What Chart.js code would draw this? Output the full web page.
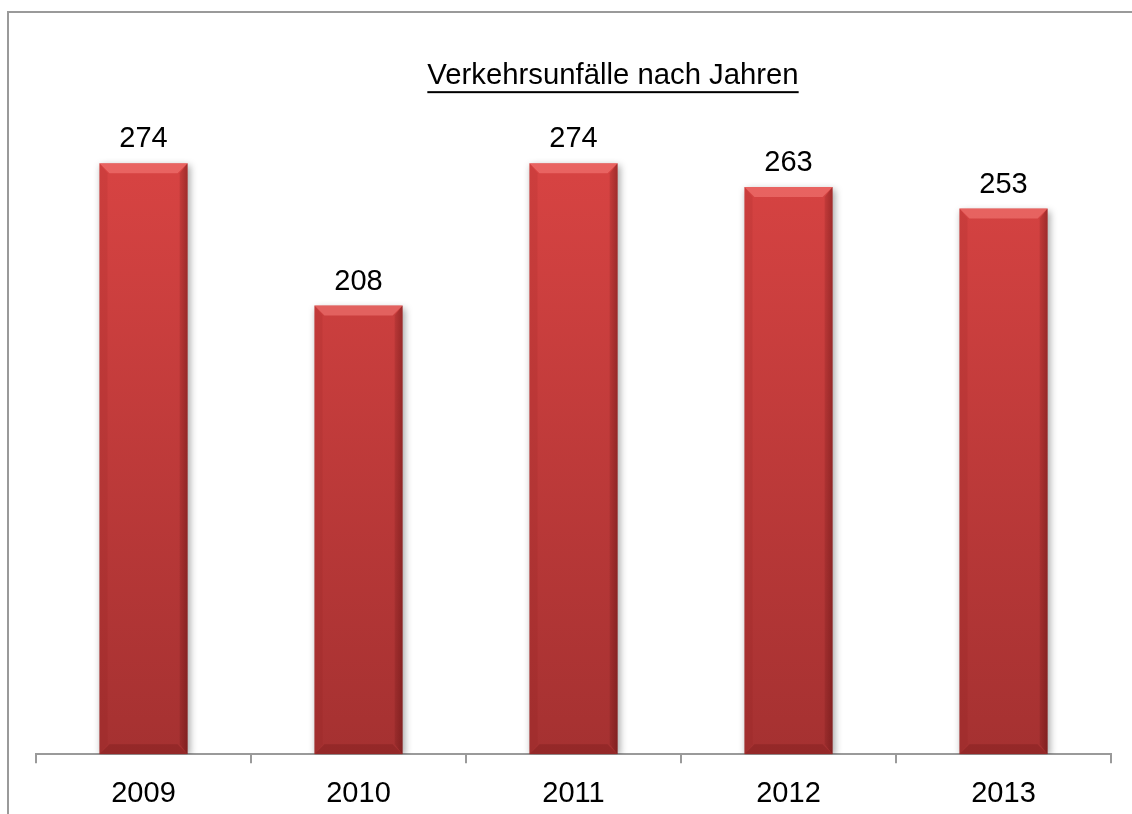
<!DOCTYPE html>
<html>
<head>
<meta charset="utf-8">
<script src="https://cdn.jsdelivr.net/npm/chart.js@4.4.1/dist/chart.umd.min.js"></script>
<style>
  html, body { margin: 0; padding: 0; background: #fff; }
  #wrap { position: relative; width: 1132px; height: 814px; overflow: hidden; }
  #frame { position: absolute; left: 7px; top: 11px; width: 1200px; height: 900px; border: 2px solid #9a9a9a; box-sizing: border-box; }
  #c { position: absolute; left: 0; top: 0; }
</style>
</head>
<body>
<div id="wrap">
  <div id="frame"></div>
  <canvas id="c" width="1132" height="824"></canvas>
</div>
<script>
const titleText = 'Verkehrsunfälle nach Jahren';
const years = ['2009', '2010', '2011', '2012', '2013'];
const accidents = [274, 208, 274, 263, 253];
const yMin = 0;
const yMax = 300;

const FONT = '"Liberation Sans", Arial, sans-serif';
const TITLE_SIZE = 29.3;

const barShadow = {
  id: 'barShadow',
  beforeDatasetsDraw(chart) {
    const ctx = chart.ctx;
    ctx.save();
    ctx.shadowColor = 'rgba(0,0,0,0.35)';
    ctx.shadowBlur = 7;
    ctx.shadowOffsetX = 2;
    ctx.shadowOffsetY = 2;
  },
  afterDatasetsDraw(chart) {
    const ctx = chart.ctx;
    ctx.restore();
    const meta = chart.getDatasetMeta(0);
    meta.data.forEach((bar) => {
      const p = bar.getProps(['x', 'y', 'base', 'width'], true);
      const l = p.x - p.width / 2, r = p.x + p.width / 2, t = p.y, b = p.base;
      const s = 10;
      ctx.save();
      ctx.beginPath();
      ctx.moveTo(l, t); ctx.lineTo(r, t); ctx.lineTo(r - s, t + s); ctx.lineTo(l + s, t + s); ctx.closePath();
      ctx.fillStyle = 'rgba(255,140,135,0.45)';
      ctx.fill();
      ctx.beginPath();
      ctx.moveTo(l, t); ctx.lineTo(l + s * 0.8, t + s); ctx.lineTo(l + s * 0.8, b - s); ctx.lineTo(l, b); ctx.closePath();
      ctx.fillStyle = 'rgba(120,20,20,0.10)';
      ctx.fill();
      ctx.beginPath();
      ctx.moveTo(r, t); ctx.lineTo(r - s * 0.8, t + s); ctx.lineTo(r - s * 0.8, b - s); ctx.lineTo(r, b); ctx.closePath();
      const g = ctx.createLinearGradient(r - s, 0, r, 0);
      g.addColorStop(0, 'rgba(60,0,0,0.05)');
      g.addColorStop(1, 'rgba(60,0,0,0.35)');
      ctx.fillStyle = g;
      ctx.fill();
      ctx.beginPath();
      ctx.moveTo(l, b); ctx.lineTo(r, b); ctx.lineTo(r - s, b - s); ctx.lineTo(l + s, b - s); ctx.closePath();
      ctx.fillStyle = 'rgba(70,0,0,0.18)';
      ctx.fill();
      ctx.restore();
    });
    ctx.save();
    ctx.font = '29px ' + FONT;
    ctx.fillStyle = '#000';
    ctx.textAlign = 'center';
    ctx.textBaseline = 'alphabetic';
    meta.data.forEach((bar, i) => {
      ctx.fillText(String(accidents[i]), bar.x, bar.y - 16);
    });
    ctx.restore();
  }
};

const titleShift = {
  id: 'titleShift',
  afterLayout(chart) {
    const tb = chart.titleBlock;
    if (tb) {
      // the reference title is centred on the page frame, not the plot area
      tb.left += 79;
      tb.width = tb.right - tb.left;
    }
  },
  afterDraw(chart) {
    const tb = chart.titleBlock;
    if (!tb) return;
    const ctx = chart.ctx;
    ctx.save();
    ctx.font = TITLE_SIZE + 'px ' + FONT;
    const w = ctx.measureText(titleText).width;
    const cx = (tb.left + tb.right) / 2;
    const y = tb.top + tb.height - tb.options.padding.bottom - 2;
    ctx.fillStyle = '#000';
    ctx.fillRect(cx - w / 2, y, w, 2);
    ctx.restore();
  }
};

new Chart(document.getElementById('c'), {
  type: 'bar',
  data: {
    labels: years,
    datasets: [{
      data: accidents,
      backgroundColor: (c) => {
        const ch = c.chart;
        const area = ch.chartArea;
        if (!area) return '#d24040';
        const g = ch.ctx.createLinearGradient(0, area.top, 0, area.bottom);
        g.addColorStop(0, '#dc4544');
        g.addColorStop(1, '#a53131');
        return g;
      },
      borderWidth: 0,
      barPercentage: 0.41,
      categoryPercentage: 1.0
    }]
  },
  options: {
    responsive: false,
    animation: false,
    devicePixelRatio: 1,
    layout: { padding: { left: 36, right: 21, top: 0, bottom: 0 } },
    plugins: {
      legend: { display: false },
      tooltip: { enabled: false },
      title: {
        display: true,
        text: titleText,
        color: '#000',
        font: { family: FONT, size: TITLE_SIZE, weight: 'normal', lineHeight: 1.2 },
        padding: { top: 58, bottom: 14 }
      }
    },
    scales: {
      x: {
        grid: {
          display: true,
          drawOnChartArea: false,
          drawTicks: true,
          tickLength: 9,
          color: '#9a9a9a',
          lineWidth: 2,
          offset: true
        },
        border: { display: true, color: '#9a9a9a', width: 2 },
        ticks: {
          color: '#000',
          padding: 13,
          font: { family: FONT, size: 29, lineHeight: 1.2 }
        }
      },
      y: {
        display: false,
        min: yMin,
        max: yMax
      }
    }
  },
  plugins: [barShadow, titleShift]
});
</script>
</body>
</html>
